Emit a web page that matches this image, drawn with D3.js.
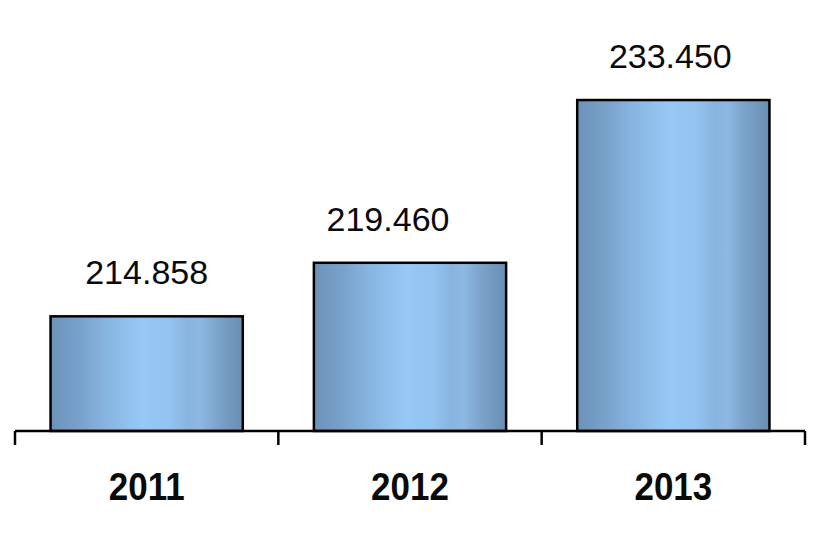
<!DOCTYPE html>
<html>
<head>
<meta charset="utf-8">
<script src="https://cdn.jsdelivr.net/npm/d3@7"></script>
<style>
  body { margin: 0; background: #fff; }
  svg { display: block; font-family: "Liberation Sans", Arial, sans-serif; }
</style>
</head>
<body>
<div id="chart"></div>
<script>
const years = ["2011", "2012", "2013"];
const values = [214.858, 219.46, 233.45];
const valueLabels = ["214.858", "219.460", "233.450"];

const width = 816;
const height = 544;
const margin = { left: 15, right: 11, baseline: 431 };
// the source nudges some value labels sideways
const labelShift = [0, -22, -3];

const svg = d3
  .select("#chart")
  .append("svg")
  .attr("width", width)
  .attr("height", height);

// bar fill: dark edges, light middle
const defs = svg.append("defs");
const grad = defs
  .append("linearGradient")
  .attr("id", "barFill")
  .attr("x1", "0%")
  .attr("x2", "100%")
  .attr("y1", "0%")
  .attr("y2", "0%");
[
  [0, "#6c92b9"],
  [0.12, "#769ec6"],
  [0.3, "#88b6e2"],
  [0.48, "#97c8f6"],
  [0.62, "#93c3f0"],
  [0.72, "#88b4de"],
  [0.78, "#8cb8e2"],
  [0.88, "#7aa1c8"],
  [1, "#6a8eb2"],
].forEach(([o, c]) => grad.append("stop").attr("offset", o).attr("stop-color", c));

// scales
const pad = 0.27;
const x = d3
  .scaleBand()
  .domain(years)
  .range([margin.left, width - margin.right])
  .paddingInner(pad)
  .paddingOuter(pad / 2);

const y = d3
  .scaleLinear()
  .domain([205, 235])
  .range([margin.baseline, margin.baseline - 349]);

// bars
svg
  .selectAll("rect.bar")
  .data(values)
  .enter()
  .append("rect")
  .attr("class", "bar")
  .attr("x", (d, i) => x(years[i]))
  .attr("y", (d) => y(d))
  .attr("width", x.bandwidth())
  .attr("height", (d) => y.range()[0] - y(d))
  .attr("fill", "url(#barFill)")
  .attr("stroke", "#000")
  .attr("stroke-width", 2.5);

// value labels
svg
  .selectAll("text.value")
  .data(values)
  .enter()
  .append("text")
  .attr("class", "value")
  .attr("x", (d, i) => x(years[i]) + x.bandwidth() / 2 + labelShift[i])
  .attr("y", (d) => y(d) - 32)
  .attr("text-anchor", "middle")
  .style("font-size", "34px")
  .attr("fill", "#0a0a0a")
  .text((d, i) => valueLabels[i]);

// axis with ticks at category boundaries
const axis = d3.axisBottom(x).tickSize(0).tickPadding(0).tickFormat("");
const axisG = svg
  .append("g")
  .attr("transform", `translate(0, ${margin.baseline})`)
  .call(axis);
axisG
  .select(".domain")
  .attr("stroke", "#000")
  .attr("stroke-width", 2.5)
  .attr("d", `M${x.range()[0]},0H${x.range()[1]}`);

const bounds = years.map((yr) => x(yr) - (x.step() * pad) / 2);
bounds.push(x.range()[1]);
axisG
  .selectAll("line.sep")
  .data(bounds)
  .enter()
  .append("line")
  .attr("class", "sep")
  .attr("x1", (d) => d)
  .attr("x2", (d) => d)
  .attr("y1", 0)
  .attr("y2", 14)
  .attr("stroke", "#000")
  .attr("stroke-width", 2.5);

// category labels
svg
  .selectAll("text.year")
  .data(years)
  .enter()
  .append("text")
  .attr("class", "year")
  .attr("x", (d) => x(d) + x.bandwidth() / 2)
  .attr("y", 500)
  .attr("text-anchor", "middle")
  .style("font-size", "35px")
  .style("font-weight", "bold")
  .attr("fill", "#0a0a0a")
  .attr("transform", "translate(0, 500) scale(1, 1.12) translate(0, -500)")
  .text((d) => d);
</script>
</body>
</html>
